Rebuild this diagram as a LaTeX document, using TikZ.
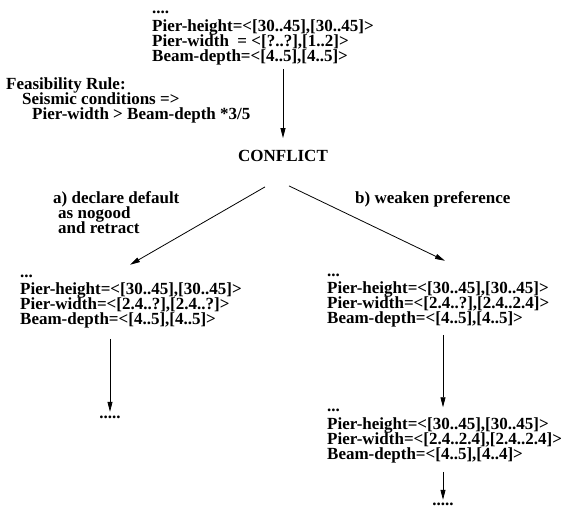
\documentclass[tikz,border=0pt]{standalone}
\usepackage{fontspec}
\setmainfont{Liberation Serif}
\usetikzlibrary{arrows.meta}
\newcommand{\blkfont}{\bfseries\fontsize{17}{15}\selectfont\lineskiplimit=-20pt\relax}
\begin{document}
\begin{tikzpicture}[x=1pt,y=1pt]
\tikzstyle{every node}+=[inner sep=0pt,align=left,font=\blkfont]
\tikzstyle{arr}=[black,line width=0.8pt,-{Triangle[length=10pt,width=5pt]}]
\useasboundingbox (0,0) rectangle (566,-510);
% value blocks (base = last line)
\node [anchor=base west] (top) at (152,-62) {....\\[3pt]Pier-height=<[30..45],[30..45]>\\Pier-width \ = <[?..?],[1..2]>\\Beam-depth=<[4..5],[4..5]>};
\node [anchor=base west] (rule) at (6,-120) {Feasibility Rule:\\\hspace*{16pt}Seismic conditions =>\\\hspace*{26pt}Pier-width > Beam-depth *3/5};
\node (conflict) at (283,-156) {CONFLICT};
\node [anchor=base west] (opta) at (53,-234) {a) declare default\\\hspace*{5pt}as nogood\\\hspace*{5pt}and retract};
\node [anchor=base west] (optb) at (355,-204) {b) weaken preference};
\node [anchor=base west] (lft) at (20,-325) {...\\[2pt]Pier-height=<[30..45],[30..45]>\\Pier-width=<[2.4..?],[2.4..?]>\\Beam-depth=<[4..5],[4..5]>};
\node [anchor=base west] (rgt) at (327,-324) {...\\[2pt]Pier-height=<[30..45],[30..45]>\\Pier-width=<[2.4..?],[2.4..2.4]>\\Beam-depth=<[4..5],[4..5]>};
\node [anchor=base west] (rgt2) at (327,-460) {...\\[3pt]Pier-height=<[30..45],[30..45]>\\Pier-width=<[2.4..2.4],[2.4..2.4]>\\Beam-depth=<[4..5],[4..4]>};
\node [anchor=base] (lftdots) at (110,-419) {.....};
\node [anchor=base] (rgtdots) at (443,-506) {.....};
% arrows
\draw [arr] ([yshift=-3pt]conflict |- top.south) -- ([yshift=12pt]conflict.north);
\draw [arr] ([shift={(-18pt,-25pt)}]conflict.south) -- ([shift={(110pt,10.5pt)}]lft.north west);
\draw [arr] ([shift={(6pt,-24pt)}]conflict.south) -- ([shift={(118pt,13.5pt)}]rgt.north west);
\draw [arr] ([yshift=-10pt]lftdots |- lft.south) -- ([yshift=4.5pt]lftdots.north);
\draw [arr] ([yshift=-7pt]rgtdots |- rgt.south) -- ([yshift=2pt]rgtdots |- rgt2.north);
\draw [arr] ([yshift=-8pt]rgtdots |- rgt2.south) -- ([yshift=3.5pt]rgtdots.north);
\end{tikzpicture}
\end{document}
